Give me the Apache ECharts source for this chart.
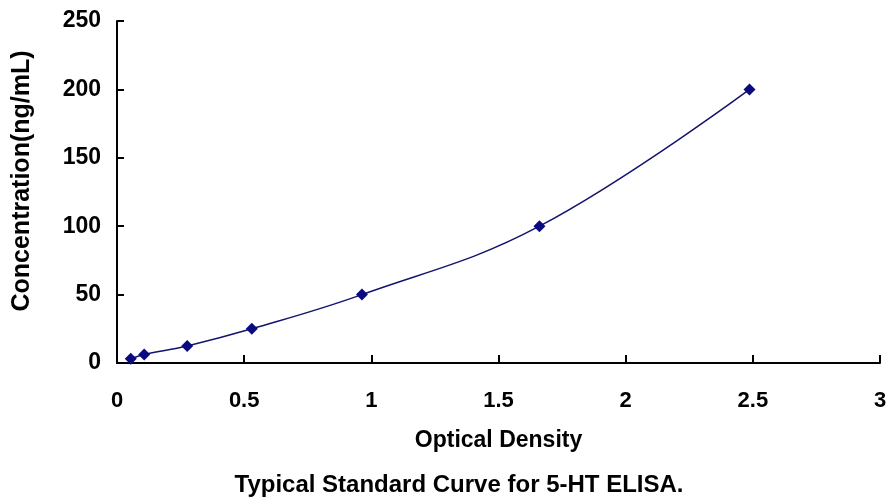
<!DOCTYPE html>
<html><head><meta charset="utf-8">
<script src="https://cdn.jsdelivr.net/npm/echarts@6/dist/echarts.min.js"></script>
<style>html,body{margin:0;padding:0;background:#fff}#c{width:888px;height:500px}</style>
</head><body><div id="c"></div>
<script>
const odValues = [0.054, 0.107, 0.276, 0.53, 0.963, 1.661, 2.487];
const concValues = [3.12, 6.25, 12.5, 25, 50, 100, 200];
const xTicks = [0, 0.5, 1, 1.5, 2, 2.5, 3];
const yTicks = [0, 50, 100, 150, 200, 250];

const chart = echarts.init(document.getElementById('c'));
const font = 'Liberation Sans, Arial, sans-serif';
chart.setOption({
  animation: false,
  backgroundColor: '#fff',
  title: {
    text: 'Typical Standard Curve for 5-HT ELISA.',
    left: 454, top: 468, textAlign: 'center',
    textStyle: {fontFamily: font, fontWeight: 'bold', fontSize: 24, color: '#000'}
  },
  graphic: [{
    type: 'text', x: 22, y: 181, rotation: Math.PI / 2,
    style: {text: 'Concentration(ng/mL)', fontFamily: font, fontWeight: 'bold', fontSize: 25,
      fill: '#000', align: 'center', verticalAlign: 'middle'}
  }],
  grid: {left: 117, right: 8, top: 21, bottom: 137, outerBoundsMode: 'none', containLabel: false},
  xAxis: {
    type: 'value', min: xTicks[0], max: xTicks[xTicks.length-1], interval: 0.5,
    name: 'Optical Density', nameLocation: 'middle', nameGap: 66,
    nameTextStyle: {fontFamily: font, fontWeight: 'bold', fontSize: 23, color: '#000'},
    axisLine: {show: true, lineStyle: {color: '#000', width: 2}},
    axisTick: {show: true, inside: true, length: 8, lineStyle: {color: '#000', width: 2}},
    axisLabel: {fontFamily: font, fontWeight: 'bold', fontSize: 22, color: '#000', margin: 27,
      formatter: v => String(v)},
    splitLine: {show: false}
  },
  yAxis: {
    type: 'value', min: yTicks[0], max: yTicks[yTicks.length-1], interval: 50,
    axisLine: {show: true, lineStyle: {color: '#000', width: 2}},
    axisTick: {show: true, inside: true, length: 7, lineStyle: {color: '#000', width: 2}},
    axisLabel: {fontFamily: font, fontWeight: 'bold', fontSize: 23, color: '#000', margin: 16},
    splitLine: {show: false}
  },
  series: [{
    type: 'line',
    data: odValues.map((x, i) => [x, concValues[i]]),
    smooth: 0.4,
    symbol: 'diamond', symbolSize: 12,
    lineStyle: {color: '#14146e', width: 1.5},
    itemStyle: {color: '#0a0a80'}
  }]
});
</script></body></html>
